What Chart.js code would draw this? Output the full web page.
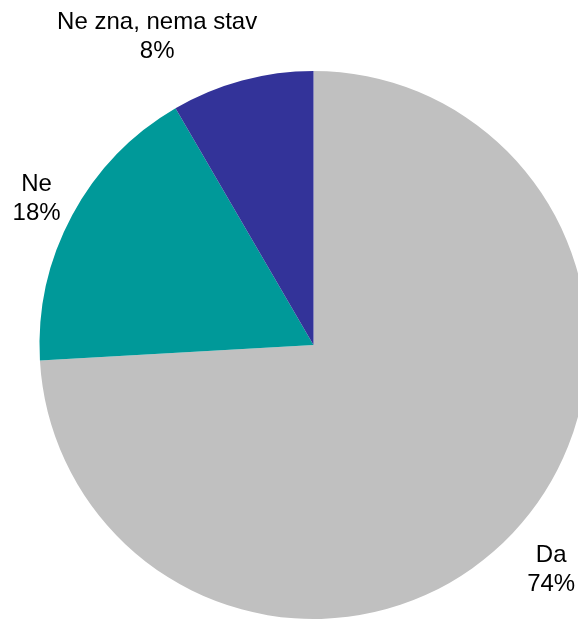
<!DOCTYPE html>
<html>
<head>
<meta charset="utf-8">
<script src="https://cdn.jsdelivr.net/npm/chart.js@4/dist/chart.umd.min.js"></script>
<style>
  html, body { margin: 0; padding: 0; background: #ffffff; }
  #wrap { position: relative; width: 578px; height: 619px; overflow: hidden; }
  canvas { display: block; }
</style>
</head>
<body>
<div id="wrap"><canvas id="c" width="578" height="619"></canvas></div>
<script>
const categories = ["Da", "Ne", "Ne zna, nema stav"];
const values = [74.1, 17.5, 8.4];
const percentLabels = ["74%", "18%", "8%"];
const colors = ["#C0C0C0", "#009999", "#333399"];

// label placement relative to each slice: radial distance beyond the rim and a small nudge
const labelPlacement = [
  { dist: 53, dx: 0, dy: 0 },
  { dist: 37, dx: -3, dy: 1 },
  { dist: 319.5, dx: -73, dy: 0, fromCenter: true }
];

const labelPlugin = {
  id: 'sliceLabels',
  afterDatasetsDraw(chart) {
    const ctx = chart.ctx;
    const meta = chart.getDatasetMeta(0);
    ctx.save();
    ctx.font = '24px "Liberation Sans", Arial, sans-serif';
    ctx.fillStyle = '#000000';
    ctx.textAlign = 'center';
    ctx.textBaseline = 'middle';
    const lineH = 29;
    meta.data.forEach((arc, i) => {
      const p = arc.getProps(['x', 'y', 'startAngle', 'endAngle', 'outerRadius'], true);
      const mid = (p.startAngle + p.endAngle) / 2;
      const pl = labelPlacement[i];
      const r = pl.fromCenter ? pl.dist : p.outerRadius + pl.dist;
      const cx = p.x + Math.cos(mid) * r + pl.dx;
      const cy = p.y + Math.sin(mid) * r + pl.dy;
      ctx.fillText(categories[i], cx, cy - lineH / 2);
      ctx.fillText(percentLabels[i], cx, cy + lineH / 2);
    });
    ctx.restore();
  }
};

new Chart(document.getElementById('c'), {
  type: 'pie',
  data: {
    labels: categories,
    datasets: [{
      data: values,
      backgroundColor: colors,
      borderWidth: 0,
      clip: false
    }]
  },
  options: {
    responsive: false,
    animation: false,
    radius: 274,
    layout: { padding: { left: 49, right: 0, top: 71, bottom: 0 } },
    plugins: {
      legend: { display: false },
      tooltip: { enabled: false },
      title: { display: false }
    }
  },
  plugins: [labelPlugin]
});
</script>
</body>
</html>
